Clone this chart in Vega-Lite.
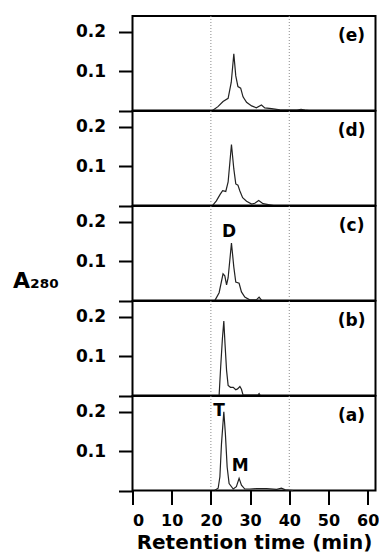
{
  "$schema": "https://vega.github.io/schema/vega-lite/v6.json",
  "padding": {"left": 11.5, "top": 14, "right": 0, "bottom": 0},
  "background": "white",
  "datasets": {
    "trace": [
      {"p":"e","t":20.4,"a":0},{"p":"e","t":21.8,"a":0.01},{"p":"e","t":23.1,"a":0.023},{"p":"e","t":24.4,"a":0.031},{"p":"e","t":25.2,"a":0.072},{"p":"e","t":25.85,"a":0.144},{"p":"e","t":26.35,"a":0.088},{"p":"e","t":26.9,"a":0.061},{"p":"e","t":27.6,"a":0.057},{"p":"e","t":28.2,"a":0.035},{"p":"e","t":29.1,"a":0.021},{"p":"e","t":30.4,"a":0.012},{"p":"e","t":31.6,"a":0.007},{"p":"e","t":32.9,"a":0.014},{"p":"e","t":33.75,"a":0.007},{"p":"e","t":35.5,"a":0.005},{"p":"e","t":37.6,"a":0.002},{"p":"e","t":40,"a":0.001},{"p":"e","t":42,"a":0.001},{"p":"e","t":43,"a":0.003},{"p":"e","t":44,"a":0.001},{"p":"e","t":45,"a":0},
      {"p":"d","t":20.4,"a":0},{"p":"d","t":21.4,"a":0.012},{"p":"d","t":22.4,"a":0.029},{"p":"d","t":23,"a":0.038},{"p":"d","t":23.8,"a":0.036},{"p":"d","t":24.4,"a":0.06},{"p":"d","t":25.25,"a":0.155},{"p":"d","t":25.85,"a":0.093},{"p":"d","t":26.35,"a":0.055},{"p":"d","t":26.9,"a":0.052},{"p":"d","t":27.4,"a":0.037},{"p":"d","t":28.1,"a":0.02},{"p":"d","t":29.1,"a":0.011},{"p":"d","t":30.4,"a":0.004},{"p":"d","t":31.2,"a":0.006},{"p":"d","t":32.2,"a":0.013},{"p":"d","t":33.3,"a":0.005},{"p":"d","t":35,"a":0.002},{"p":"d","t":36,"a":0},
      {"p":"c","t":21,"a":0},{"p":"c","t":22.1,"a":0.02},{"p":"c","t":23.1,"a":0.068},{"p":"c","t":23.55,"a":0.063},{"p":"c","t":24,"a":0.04},{"p":"c","t":24.4,"a":0.058},{"p":"c","t":25.25,"a":0.146},{"p":"c","t":25.85,"a":0.085},{"p":"c","t":26.35,"a":0.047},{"p":"c","t":27.2,"a":0.044},{"p":"c","t":27.8,"a":0.022},{"p":"c","t":28.65,"a":0.009},{"p":"c","t":29.9,"a":0.002},{"p":"c","t":31.6,"a":0.002},{"p":"c","t":32.3,"a":0.009},{"p":"c","t":33,"a":0},
      {"p":"b","t":22.1,"a":0},{"p":"b","t":22.5,"a":0.073},{"p":"b","t":22.95,"a":0.146},{"p":"b","t":23.3,"a":0.189},{"p":"b","t":23.6,"a":0.132},{"p":"b","t":24,"a":0.064},{"p":"b","t":24.4,"a":0.026},{"p":"b","t":25,"a":0.021},{"p":"b","t":25.7,"a":0.021},{"p":"b","t":26.35,"a":0.015},{"p":"b","t":26.8,"a":0.017},{"p":"b","t":27.4,"a":0.023},{"p":"b","t":27.8,"a":0.016},{"p":"b","t":28.2,"a":0.002},{"p":"b","t":30,"a":0.001},{"p":"b","t":32,"a":0.001},{"p":"b","t":32.3,"a":0.005},{"p":"b","t":32.6,"a":0},
      {"p":"a","t":21,"a":0.001},{"p":"a","t":21.85,"a":0.006},{"p":"a","t":22.3,"a":0.035},{"p":"a","t":22.7,"a":0.118},{"p":"a","t":23.3,"a":0.2},{"p":"a","t":23.7,"a":0.144},{"p":"a","t":24.15,"a":0.06},{"p":"a","t":24.65,"a":0.018},{"p":"a","t":25.7,"a":0.004},{"p":"a","t":26.5,"a":0.01},{"p":"a","t":27.2,"a":0.031},{"p":"a","t":27.8,"a":0.014},{"p":"a","t":28.65,"a":0.004},{"p":"a","t":29.9,"a":0.004},{"p":"a","t":31.6,"a":0.005},{"p":"a","t":34.2,"a":0.005},{"p":"a","t":36.8,"a":0.003},{"p":"a","t":38,"a":0.006},{"p":"a","t":39,"a":0.002},{"p":"a","t":41,"a":0}
    ],
    "lbl": [
      {"p":"e","t":55.9,"a":0.188,"txt":"(e)"},
      {"p":"d","t":55.9,"a":0.188,"txt":"(d)"},
      {"p":"c","t":55.9,"a":0.188,"txt":"(c)"},
      {"p":"b","t":55.9,"a":0.188,"txt":"(b)"},
      {"p":"a","t":55.9,"a":0.188,"txt":"(a)"},
      {"p":"c","t":24.65,"a":0.173,"txt":"D"},
      {"p":"a","t":22.1,"a":0.203,"txt":"T"},
      {"p":"a","t":27.5,"a":0.063,"txt":"M"}
    ],
    "vl": [{"t":20},{"t":40}]
  },
  "vconcat": [
    {
      "width": 243, "height": 94.6,
      "encoding": {"x":{"field":"t","type":"quantitative","scale":{"domain":[0,62],"nice":false,"zero":false},"axis":null}},
      "layer": [
        {"data":{"name":"vl"},"mark":{"type":"rule","color":"#8a8a8a","strokeWidth":1,"strokeDash":[1,2]}},
        {"data":{"name":"trace"},"transform":[{"filter":"datum.p == 'e'"}],"mark":{"type":"line","color":"#222","strokeWidth":1.2},
         "encoding":{"y":{"field":"a","type":"quantitative","scale":{"domain":[0,0.24],"nice":false},"axis":{"values":[0,0.1,0.2],"labelExpr":"datum.value == 0 ? '' : format(datum.value, '.1f')","title":null,"labelPadding":13}}}},
        {"data":{"name":"lbl"},"transform":[{"filter":"datum.p == 'e'"}],"mark":{"type":"text","font":"DejaVu Sans","fontWeight":"bold","fontSize":17,"color":"black","align":"center","baseline":"middle"},
         "encoding":{"y":{"field":"a","type":"quantitative","scale":{"domain":[0,0.24],"nice":false},"axis":{"values":[0,0.1,0.2],"labelExpr":"datum.value == 0 ? '' : format(datum.value, '.1f')","title":null,"labelPadding":13}},"text":{"field":"txt"}}}
      ]
    },
    {
      "width": 243, "height": 94.6,
      "encoding": {"x":{"field":"t","type":"quantitative","scale":{"domain":[0,62],"nice":false,"zero":false},"axis":null}},
      "layer": [
        {"data":{"name":"vl"},"mark":{"type":"rule","color":"#8a8a8a","strokeWidth":1,"strokeDash":[1,2]}},
        {"data":{"name":"trace"},"transform":[{"filter":"datum.p == 'd'"}],"mark":{"type":"line","color":"#222","strokeWidth":1.2},
         "encoding":{"y":{"field":"a","type":"quantitative","scale":{"domain":[0,0.24],"nice":false},"axis":{"values":[0,0.1,0.2],"labelExpr":"datum.value == 0 ? '' : format(datum.value, '.1f')","title":null,"labelPadding":13}}}},
        {"data":{"name":"lbl"},"transform":[{"filter":"datum.p == 'd'"}],"mark":{"type":"text","font":"DejaVu Sans","fontWeight":"bold","fontSize":17,"color":"black","align":"center","baseline":"middle"},
         "encoding":{"y":{"field":"a","type":"quantitative","scale":{"domain":[0,0.24],"nice":false},"axis":{"values":[0,0.1,0.2],"labelExpr":"datum.value == 0 ? '' : format(datum.value, '.1f')","title":null,"labelPadding":13}},"text":{"field":"txt"}}}
      ]
    },
    {
      "width": 243, "height": 94.6,
      "encoding": {"x":{"field":"t","type":"quantitative","scale":{"domain":[0,62],"nice":false,"zero":false},"axis":null}},
      "layer": [
        {"data":{"name":"vl"},"mark":{"type":"rule","color":"#8a8a8a","strokeWidth":1,"strokeDash":[1,2]}},
        {"data":{"name":"trace"},"transform":[{"filter":"datum.p == 'c'"}],"mark":{"type":"line","color":"#222","strokeWidth":1.2},
         "encoding":{"y":{"field":"a","type":"quantitative","scale":{"domain":[0,0.24],"nice":false},"axis":{"values":[0,0.1,0.2],"labelExpr":"datum.value == 0 ? '' : format(datum.value, '.1f')","labelPadding":13,"title":"A₂₈₀","titleAngle":0,"titleAlign":"left","titleBaseline":"middle","titleX":-120,"titleY":74,"titleFontSize":22}}}},
        {"data":{"name":"lbl"},"transform":[{"filter":"datum.p == 'c'"}],"mark":{"type":"text","font":"DejaVu Sans","fontWeight":"bold","fontSize":17,"color":"black","align":"center","baseline":"middle"},
         "encoding":{"y":{"field":"a","type":"quantitative","scale":{"domain":[0,0.24],"nice":false},"axis":{"values":[0,0.1,0.2],"labelExpr":"datum.value == 0 ? '' : format(datum.value, '.1f')","labelPadding":13,"title":"A₂₈₀","titleAngle":0,"titleAlign":"left","titleBaseline":"middle","titleX":-120,"titleY":74,"titleFontSize":22}},"text":{"field":"txt"}}}
      ]
    },
    {
      "width": 243, "height": 94.6,
      "encoding": {"x":{"field":"t","type":"quantitative","scale":{"domain":[0,62],"nice":false,"zero":false},"axis":null}},
      "layer": [
        {"data":{"name":"vl"},"mark":{"type":"rule","color":"#8a8a8a","strokeWidth":1,"strokeDash":[1,2]}},
        {"data":{"name":"trace"},"transform":[{"filter":"datum.p == 'b'"}],"mark":{"type":"line","color":"#222","strokeWidth":1.2},
         "encoding":{"y":{"field":"a","type":"quantitative","scale":{"domain":[0,0.24],"nice":false},"axis":{"values":[0,0.1,0.2],"labelExpr":"datum.value == 0 ? '' : format(datum.value, '.1f')","title":null,"labelPadding":13}}}},
        {"data":{"name":"lbl"},"transform":[{"filter":"datum.p == 'b'"}],"mark":{"type":"text","font":"DejaVu Sans","fontWeight":"bold","fontSize":17,"color":"black","align":"center","baseline":"middle"},
         "encoding":{"y":{"field":"a","type":"quantitative","scale":{"domain":[0,0.24],"nice":false},"axis":{"values":[0,0.1,0.2],"labelExpr":"datum.value == 0 ? '' : format(datum.value, '.1f')","title":null,"labelPadding":13}},"text":{"field":"txt"}}}
      ]
    },
    {
      "width": 243, "height": 94.6,
      "encoding": {"x":{"field":"t","type":"quantitative","scale":{"domain":[0,62],"nice":false,"zero":false},"axis":{"values":[0,10,20,30,40,50,60],"labelPadding":8,"title":"Retention time (min)","titleFontSize":20,"titlePadding":4}}},
      "layer": [
        {"data":{"name":"vl"},"mark":{"type":"rule","color":"#8a8a8a","strokeWidth":1,"strokeDash":[1,2]}},
        {"data":{"name":"trace"},"transform":[{"filter":"datum.p == 'a'"}],"mark":{"type":"line","color":"#222","strokeWidth":1.2},
         "encoding":{"y":{"field":"a","type":"quantitative","scale":{"domain":[0,0.24],"nice":false},"axis":{"values":[0,0.1,0.2],"labelExpr":"datum.value == 0 ? '' : format(datum.value, '.1f')","title":null,"labelPadding":13}}}},
        {"data":{"name":"lbl"},"transform":[{"filter":"datum.p == 'a'"}],"mark":{"type":"text","font":"DejaVu Sans","fontWeight":"bold","fontSize":17,"color":"black","align":"center","baseline":"middle"},
         "encoding":{"y":{"field":"a","type":"quantitative","scale":{"domain":[0,0.24],"nice":false},"axis":{"values":[0,0.1,0.2],"labelExpr":"datum.value == 0 ? '' : format(datum.value, '.1f')","title":null,"labelPadding":13}},"text":{"field":"txt"}}}
      ]
    }
  ],
  "spacing": 0,
  "bounds": "flush",
  "config": {
    "font": "DejaVu Sans",
    "view": {"stroke": "black", "strokeWidth": 2},
    "axis": {"grid": false, "domain": false, "ticks": true, "tickColor": "black", "tickWidth": 2, "tickSize": 14,
             "labelFont": "DejaVu Sans", "labelFontWeight": "bold", "labelFontSize": 16, "labelColor": "black",
             "titleFont": "DejaVu Sans", "titleFontWeight": "bold", "titleColor": "black"},
    "axisY": {"labelFontSize": 17}
  }
}
